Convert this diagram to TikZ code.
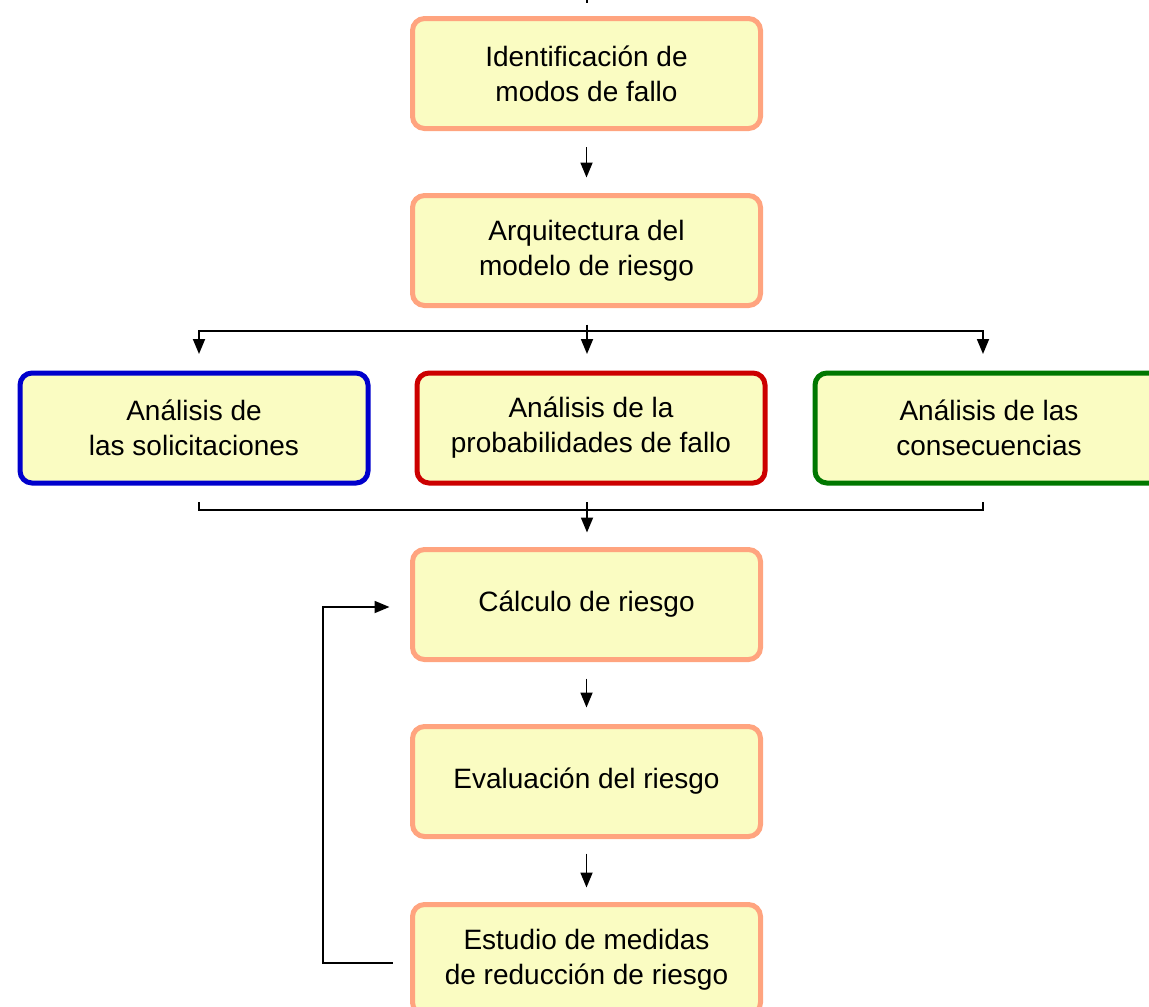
\documentclass[tikz,border=0pt]{standalone}
\usepackage{fontspec}
\setmainfont{Liberation Sans}
\usetikzlibrary{arrows.meta,calc}
\definecolor{boxfill}{HTML}{FAFCC2}
\definecolor{salmon}{HTML}{FFA47F}
\definecolor{bblue}{HTML}{0000CC}
\definecolor{bred}{HTML}{CC0000}
\definecolor{bgreen}{HTML}{007700}
\tikzset{
  stepbox/.style={draw=salmon, fill=boxfill, line width=5pt, rounded corners=12pt,
    minimum width=348pt, minimum height=110pt, align=center, inner sep=0pt,
    font=\fontsize{28}{35}\selectfont},
  arr/.style={-{Triangle[length=15pt,width=12pt]}, line width=1.8pt},
  conn/.style={line width=1.8pt}
}
\begin{document}
\begin{tikzpicture}[x=1pt,y=-1pt]
\useasboundingbox (0,0) rectangle (1149,1007);
\node[stepbox] (b1) at (586.5,73.5) {Identificación de\\modos de fallo};
\node[stepbox] (b2) at (586.5,250.5) {Arquitectura del\\modelo de riesgo};
\node[stepbox, draw=bblue] (blue) at (194,428) {Análisis de\\las solicitaciones};
\node[stepbox, draw=bred] (red) at (591,428) {Análisis de la\\probabilidades de fallo};
\node[stepbox, draw=bgreen] (green) at (989,428) {Análisis de las\\consecuencias};
\node[stepbox] (calc) at (586.5,604.5) {Cálculo de riesgo};
\node[stepbox] (eval) at (586.5,781.5) {Evaluación del riesgo};
\node[stepbox] (est) at (586.5,959.5) {Estudio de medidas\\de reducción de riesgo};
% tiny mark at top
\coordinate (topmark) at (587,0);
\draw[line width=1.2pt] (topmark) -- ++(0,2.5);
% straight arrows
\draw[arr, shorten <=16pt, shorten >=15.5pt] (b1.south) -- (b2.north);
\draw[arr, shorten <=16.5pt, shorten >=16.5pt] (calc.south) -- (eval.north);
\draw[arr, shorten <=14.5pt, shorten >=14.5pt] (eval.south) -- (est.north);
% split
\coordinate (split) at (587,331);
\draw[arr] ([shift={(0.5pt,-16.5pt)}]b2.south) -- ([shift={(-4pt,16.5pt)}]red.north);
\draw[arr] (split) -| ([shift={(5pt,16.5pt)}]blue.north);
\draw[arr] (split) -| ([shift={(-6pt,16.5pt)}]green.north);
% merge
\coordinate (merge) at (587,510);
\draw[conn] ([shift={(5pt,-16.5pt)}]blue.south) |- (merge) -| ([shift={(-6pt,-16.5pt)}]green.south);
\draw[arr] ([shift={(-4pt,-16.5pt)}]red.south) -- ([shift={(0.5pt,14.5pt)}]calc.north);
% feedback
\coordinate (fb) at (323,607);
\draw[arr] ([shift={(-17.5pt,-3.5pt)}]est.west) -| (fb) -- ([shift={(-20.5pt,-2.5pt)}]calc.west);
\end{tikzpicture}
\end{document}
